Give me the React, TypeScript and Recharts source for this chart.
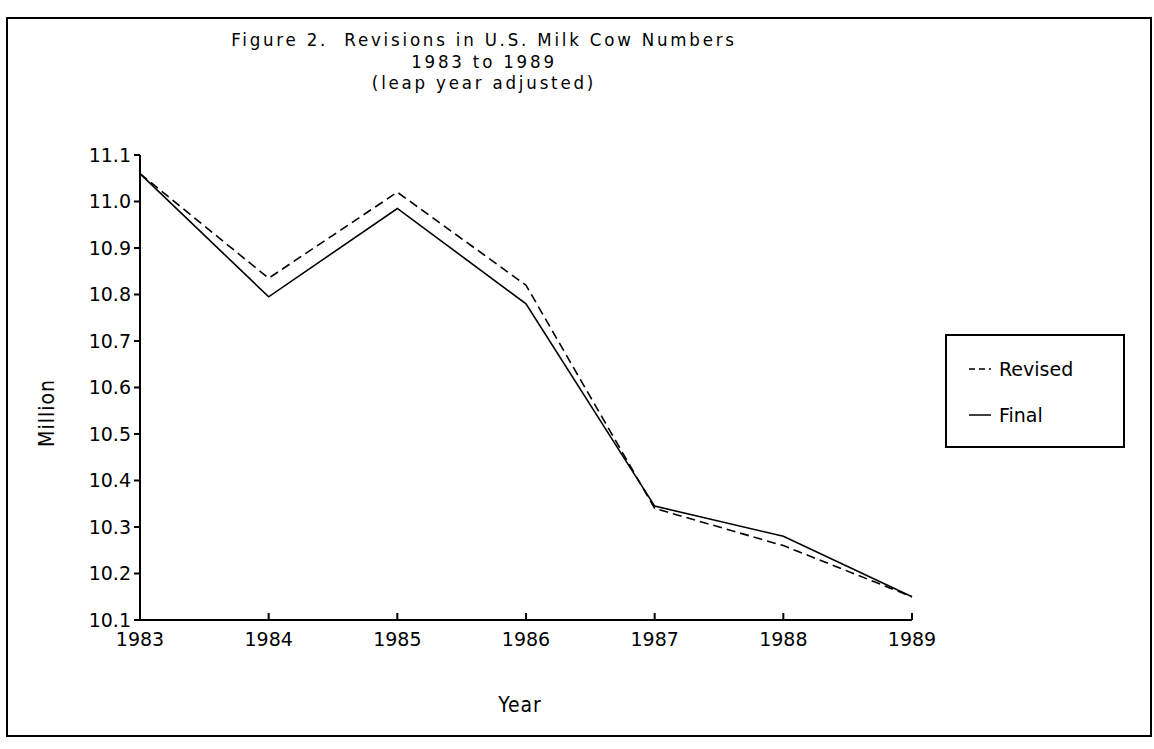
import { LineChart, Line, XAxis, YAxis } from 'recharts';

const years = [1983, 1984, 1985, 1986, 1987, 1988, 1989];
const revised = [11.06, 10.835, 11.02, 10.82, 10.34, 10.26, 10.15];
const final = [11.06, 10.795, 10.985, 10.78, 10.345, 10.28, 10.15];
const yTicks = [10.1, 10.2, 10.3, 10.4, 10.5, 10.6, 10.7, 10.8, 10.9, 11.0, 11.1];

const data = years.map((year, i) => ({ year, revised: revised[i], final: final[i] }));

const FONT = '"DejaVu Sans", sans-serif';
const NARROW = '"Liberation Sans Narrow", "DejaVu Sans Condensed", sans-serif';

// legend drawn as a plain box so it takes no room from the plot
const LegendBox = () => (
  <div
    style={{
      position: 'absolute',
      left: 945,
      top: 334,
      width: 180,
      height: 114,
      border: '2px solid #000',
      boxSizing: 'border-box',
      fontFamily: FONT,
      fontSize: 19,
      color: '#000',
      padding: '22px 0 0 22px',
    }}
  >
    <div style={{ display: 'flex', alignItems: 'center', marginBottom: 24 }}>
      <svg width={22} height={10}>
        <line x1={0} y1={5} x2={22} y2={5} stroke="#000" strokeWidth={1.5} strokeDasharray="6 4" />
      </svg>
      <span style={{ marginLeft: 8 }}>Revised</span>
    </div>
    <div style={{ display: 'flex', alignItems: 'center' }}>
      <svg width={22} height={10}>
        <line x1={0} y1={5} x2={22} y2={5} stroke="#000" strokeWidth={1.5} />
      </svg>
      <span style={{ marginLeft: 8 }}>Final</span>
    </div>
  </div>
);

const App = () => {
  return (
    <div style={{ position: 'absolute', left: 0, top: 0, width: 1154, height: 749, background: '#fff' }}>
      <div
        style={{
          position: 'absolute',
          left: 6,
          top: 17,
          width: 1146,
          height: 720,
          border: '2px solid #000',
          boxSizing: 'border-box',
        }}
      />
      <div
        style={{
          position: 'absolute',
          left: 0,
          top: 29,
          width: 968,
          textAlign: 'center',
          fontFamily: NARROW,
          fontSize: 18.5,
          letterSpacing: 2.8,
          lineHeight: '21.5px',
          color: '#000',
        }}
      >
        <div>Figure 2.&nbsp; Revisions in U.S. Milk Cow Numbers</div>
        <div>1983 to 1989</div>
        <div>(leap year adjusted)</div>
      </div>
      <div
        style={{
          position: 'absolute',
          left: 0,
          top: 693,
          width: 1040,
          textAlign: 'center',
          fontFamily: NARROW,
          fontSize: 21,
          letterSpacing: 1,
          color: '#000',
        }}
      >
        Year
      </div>
      <div
        style={{
          position: 'absolute',
          left: 47,
          top: 413,
          transform: 'translate(-50%, -50%) rotate(-90deg)',
          fontFamily: NARROW,
          fontSize: 21,
          letterSpacing: 1,
          color: '#000',
        }}
      >
        Million
      </div>
      <div style={{ position: 'absolute', left: 0, top: 0 }}>
        <LineChart width={1154} height={749} data={data} margin={{ top: 155, right: 242, bottom: 89, left: 0 }}>
          <XAxis
            dataKey="year"
            type="number"
            domain={[1983, 1989]}
            ticks={years}
            stroke="#000"
            strokeWidth={2}
            tickSize={-7}
            tickMargin={20}
            height={40}
            tick={{ fill: '#000', fontSize: 19, fontFamily: FONT }}
          />
          <YAxis
            type="number"
            domain={[10.1, 11.1]}
            ticks={yTicks}
            tickFormatter={(v: number) => v.toFixed(1)}
            stroke="#000"
            strokeWidth={2}
            width={140}
            tickSize={6}
            tickMargin={3}
            tick={{ fill: '#000', fontSize: 19, fontFamily: FONT }}
          />
          <Line
            dataKey="revised"
            name="Revised"
            stroke="#000"
            strokeWidth={1.6}
            strokeDasharray="9 5"
            dot={false}
            isAnimationActive={false}
          />
          <Line
            dataKey="final"
            name="Final"
            stroke="#000"
            strokeWidth={1.6}
            dot={false}
            isAnimationActive={false}
          />
        </LineChart>
      </div>
      <LegendBox />
    </div>
  );
};

export default App;
